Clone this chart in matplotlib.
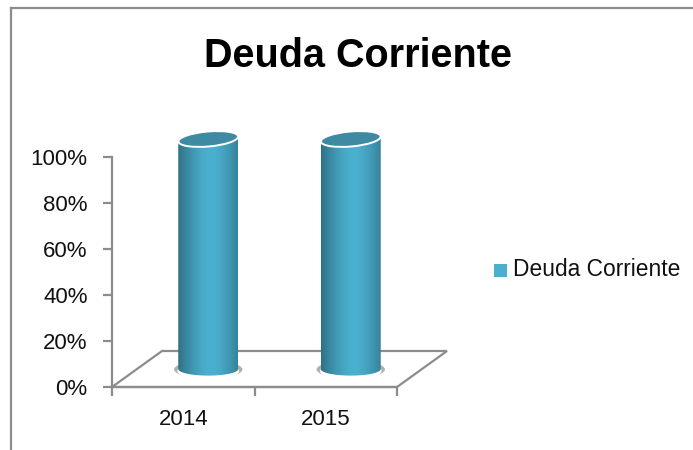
import matplotlib
matplotlib.use("Agg")
import matplotlib.pyplot as plt
import numpy as np
from matplotlib.patches import Ellipse, PathPatch, Polygon, Rectangle
from matplotlib.path import Path

plt.rcParams["font.family"] = ["Liberation Sans", "DejaVu Sans"]

W, H = 693, 450
categories = ["2014", "2015"]
values = [100, 100]
yticks = [0, 20, 40, 60, 80, 100]
title = "Deuda Corriente"
series_name = "Deuda Corriente"

GREY = "#8c8c8c"
DARK = "#2f7084"
MID = "#4bb0d0"

fig = plt.figure(figsize=(W / 100, H / 100), dpi=100)

# frame of the chart area, only top and left show in the image
bg = fig.add_axes([0, 0, 1, 1])
bg.set_xlim(0, W)
bg.set_ylim(H, 0)
bg.axis("off")
bg.plot([11, 11], [H, 8], color=GREY, lw=1.6)
bg.plot([11, W], [8, 8], color=GREY, lw=1.6)

# main axes sits on the front plane of the fake 3d box
x0, x1, y0, y1 = 112, 397, 157, 387
ax = fig.add_axes([x0 / W, 1 - y1 / H, (x1 - x0) / W, (y1 - y0) / H])
ax.set_xlim(0, len(categories))
ax.set_ylim(0, 100)
ax.patch.set_alpha(0)
for s in ["top", "right"]:
    ax.spines[s].set_visible(False)
for s in ["left", "bottom"]:
    ax.spines[s].set_color(GREY)
    ax.spines[s].set_linewidth(1.6)
ax.set_yticks(yticks)
ax.set_yticklabels([f"{v}%" for v in yticks], fontsize=16, color="#111111")
ax.set_xticks(range(len(categories) + 1))
ax.set_xticklabels([])
ax.tick_params(axis="both", color=GREY, width=1.6, length=6.5)
ax.tick_params(axis="y", pad=11)
for i, c in enumerate(categories):
    ax.text(i + 0.5, -14, c, ha="center", va="center", fontsize=16, color="#111111")

# depth of the box in data units
sx = len(categories) / (x1 - x0)
sy = 100 / (y1 - y0)
dx, dy = 50 * sx, 36 * sy

floor = Polygon([(0, 0), (dx, dy), (2 + dx, dy), (2, 0)], closed=True, fill=False,
                edgecolor=GREY, lw=1.6, clip_on=False, joinstyle="miter", zorder=1)
ax.add_patch(floor)

grad = np.linspace(0, 1, 256)
grad = np.abs(grad - 0.55) / 0.55
grad = grad ** 1.6
c0 = np.array(matplotlib.colors.to_rgb(MID))
c1 = np.array(matplotlib.colors.to_rgb(DARK))
img = (c0[None, :] * (1 - grad[:, None]) + c1[None, :] * grad[:, None])[None, :, :]

bw = 60 * sx
eh = 12 * sy
for i, v in enumerate(values):
    cx = i + 0.5 + dx / 2
    base = dy / 2
    top = v + dy / 2

    # shadow and white rim under the column
    ax.add_patch(Ellipse((cx, base - 0.2), bw * 1.14, eh * 1.5, facecolor="#b0b0b0",
                         edgecolor="none", clip_on=False, zorder=2))
    ax.add_patch(Ellipse((cx, base - 0.9), bw * 1.03, eh * 1.4, facecolor="white",
                         edgecolor="none", clip_on=False, zorder=2.5))

    # column body: straight sides, rounded bottom
    n = 40
    t = np.linspace(np.pi, 2 * np.pi, n)
    bx = cx + bw / 2 * np.cos(t)
    by = base + eh / 2 * 1.1 * np.sin(t)
    verts = list(zip(bx, by)) + [(cx + bw / 2, top), (cx - bw / 2, top), (bx[0], by[0])]
    codes = [Path.MOVETO] + [Path.LINETO] * (len(verts) - 2) + [Path.CLOSEPOLY]
    clip = PathPatch(Path(verts, codes), transform=ax.transData, facecolor="none",
                     edgecolor="none", clip_on=False)
    ax.add_patch(clip)
    im = ax.imshow(img, extent=(cx - bw / 2, cx + bw / 2, base - eh, top), aspect="auto",
                   zorder=3, interpolation="bilinear")
    im.set_clip_box(fig.bbox)
    im.set_clip_path(clip)

    # tilted top cap, done in pixels so the rotation is not skewed
    px, py = ax.transData.transform((cx, top))
    ax.add_patch(Ellipse((px, py), 60, 15, angle=5, facecolor="#3e8aa3", edgecolor="white",
                         lw=1.4, transform=None, clip_on=False, zorder=4))

ax.set_xlim(0, len(categories))
ax.set_ylim(0, 100)

fig.text(358.5 / W, 1 - 56 / H, title, ha="center", va="center", fontsize=28.5,
         fontweight="bold", color="black")

# legend by hand, its key is a small square
lg = fig.add_axes([0, 0, 1, 1])
lg.set_xlim(0, W)
lg.set_ylim(H, 0)
lg.axis("off")
lg.add_patch(Rectangle((494, 264), 13, 13, facecolor=MID, edgecolor="none"))
lg.text(513, 269, series_name, ha="left", va="center", fontsize=16.4, color="#111111")

fig.savefig("out.png", dpi=100)
